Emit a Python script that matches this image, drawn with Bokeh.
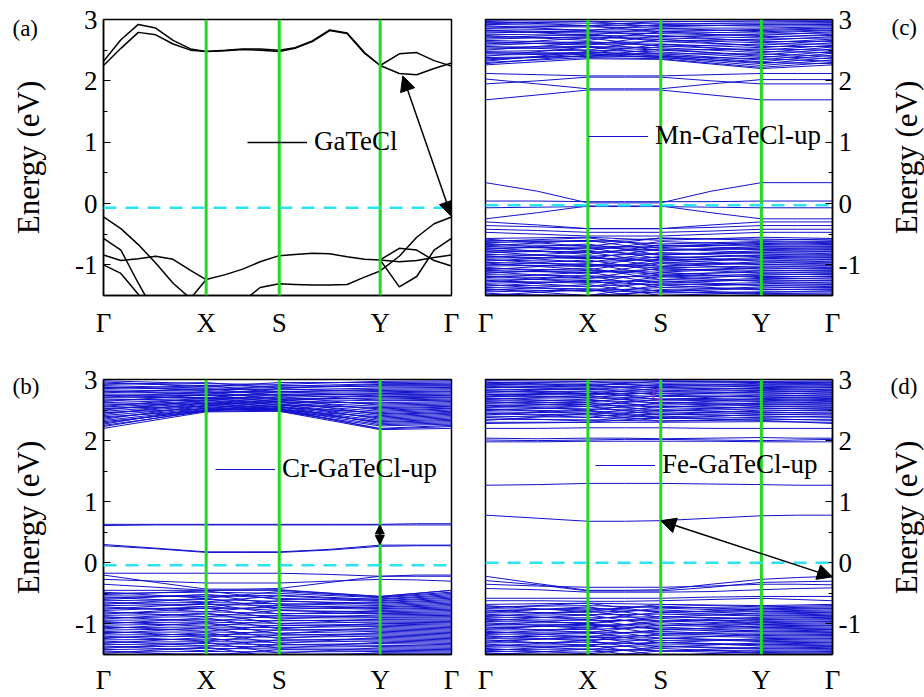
import numpy as np
from bokeh.plotting import figure
from bokeh.models import (FixedTicker, Arrow, NormalHead, Label, Legend,
                          LegendItem, Span, Range1d)
from bokeh.core.properties import value
from bokeh.layouts import column, row
from bokeh.embed import file_html
from bokeh.resources import INLINE

FONT = "Liberation Serif"
BLUE = "#1212CC"
GREEN = "#1EDC1E"
CYAN = "#2CE3F0"

# high-symmetry path
K_TICKS = [0.0, 0.295, 0.505, 0.795, 1.0]
K_NAMES = ["Γ", "X", "S", "Y", "Γ"]
E_TICKS = [-1, 0, 1, 2, 3]
E_MINOR = [-1.5, -0.5, 0.5, 1.5, 2.5]
PANEL_LETTERS = ["(a)", "(b)", "(c)", "(d)"]
LEGEND_NAMES = ["GaTeCl", "Cr-GaTeCl-up", "Mn-GaTeCl-up", "Fe-GaTeCl-up"]
Y_LABEL = "Energy (eV)"

# ---------------- panel (a): GaTeCl ----------------
ka = [0, 0.05, 0.1, 0.15, 0.2, 0.25, 0.295, 0.35, 0.4, 0.45, 0.505,
      0.55, 0.6, 0.65, 0.7, 0.75, 0.795, 0.85, 0.9, 0.95, 1.0]
a_c1 = [2.25, 2.53, 2.79, 2.75, 2.6, 2.5, 2.48, 2.49, 2.51, 2.5, 2.48,
        2.53, 2.64, 2.82, 2.77, 2.45, 2.25, 2.12, 2.1, 2.2, 2.29]
a_c2 = [2.32, 2.67, 2.92, 2.86, 2.66, 2.52, 2.48, 2.5, 2.52, 2.52, 2.5,
        2.54, 2.65, 2.83, 2.78, 2.46, 2.25, 2.44, 2.46, 2.33, 2.24]
a_v1 = [-0.22, -0.41, -0.67, -0.97, -1.3, -1.55, -1.24, -1.16, -1.07, -0.95, -0.85,
        -0.83, -0.81, -0.82, -0.87, -0.91, -0.92, -0.95, -0.93, -0.88, -0.84]
a_v2 = [-0.57, -0.76, -1.3, -1.8, None, None, None, None, -1.6, -1.37, -1.31,
        -1.32, -1.33, -1.33, -1.32, -1.2, -1.1, -0.86, -0.55, -0.33, -0.22]
a_v3 = [-1.0, -1.14, -1.48, -1.8, None, None, None, None, None, None, None,
        None, None, None, None, None, -0.92, -1.36, -1.19, -0.76, -0.57]
a_v4 = [-0.84, -0.93, -0.9, -0.86, -0.91, -1.09, -1.24, None, None, None, None,
        None, None, None, None, None, -0.92, -0.73, -0.76, -0.93, -1.02]
a_fermi = -0.07
a_arrow_k = [1.0, 0.86]
a_arrow_e = [-0.21, 2.08]

# k grid for the isolated bands of the doped cells
k9 = [0, 0.15, 0.295, 0.4, 0.505, 0.65, 0.795, 0.9, 1.0]

# ---------------- panel (c): Mn-GaTeCl-up ----------------
c_iso = [
    [1.69, 1.77, 1.85, 1.85, 1.85, 1.77, 1.69, 1.69, 1.69],
    [1.95, 2.0, 2.06, 2.06, 2.06, 2.0, 1.95, 1.95, 1.95],
    [2.03, 1.95, 1.87, 1.87, 1.87, 1.95, 2.02, 2.02, 2.02],
    [2.12, 2.1, 2.08, 2.08, 2.08, 2.1, 2.12, 2.12, 2.12],
    [0.34, 0.2, 0.01, 0.01, 0.01, 0.2, 0.34, 0.34, 0.34],
    [0.04, 0.04, 0.03, 0.03, 0.03, 0.03, 0.04, 0.04, 0.04],
    [-0.07, -0.06, -0.05, -0.05, -0.05, -0.06, -0.07, -0.07, -0.07],
    [-0.25, -0.15, -0.04, -0.04, -0.04, -0.15, -0.25, -0.25, -0.25],
    [-0.3, -0.35, -0.41, -0.41, -0.41, -0.35, -0.3, -0.3, -0.3],
    [-0.36, -0.38, -0.41, -0.41, -0.41, -0.39, -0.36, -0.36, -0.36],
    [-0.42, -0.44, -0.47, -0.47, -0.47, -0.45, -0.42, -0.42, -0.42],
    [-0.47, -0.5, -0.53, -0.53, -0.53, -0.5, -0.47, -0.47, -0.47],
]
c_cG = [2.98, 2.95, 2.92, 2.88, 2.85, 2.82, 2.8, 2.76, 2.72, 2.68, 2.66,
        2.62, 2.58, 2.55, 2.52, 2.48, 2.45, 2.42, 2.38, 2.34, 2.3, 2.26]
c_cX = [2.97, 2.94, 2.9, 2.88, 2.83, 2.8, 2.78, 2.74, 2.7, 2.72, 2.62,
        2.6, 2.64, 2.56, 2.55, 2.5, 2.46, 2.44, 2.4, 2.44, 2.38, 2.36]
c_cS = [2.96, 2.93, 2.9, 2.86, 2.83, 2.8, 2.77, 2.73, 2.7, 2.67, 2.64,
        2.6, 2.57, 2.54, 2.5, 2.47, 2.44, 2.42, 2.4, 2.38, 2.36, 2.35]
c_cY = [2.98, 2.94, 2.91, 2.86, 2.82, 2.78, 2.74, 2.7, 2.66, 2.62, 2.58,
        2.54, 2.5, 2.46, 2.42, 2.38, 2.34, 2.31, 2.28, 2.25, 2.22, 2.2]
c_dG = [2.97, 2.93, 2.9, 2.86, 2.83, 2.78, 2.74, 2.7, 2.64, 2.6, 2.56,
        2.5, 2.46, 2.4, 2.36, 2.32, 2.28]
c_dX = [2.9, 2.97, 2.82, 2.9, 2.74, 2.82, 2.66, 2.76, 2.58, 2.7, 2.5,
        2.62, 2.44, 2.55, 2.4, 2.48, 2.42]
c_dS = [2.97, 2.88, 2.92, 2.8, 2.86, 2.72, 2.8, 2.64, 2.74, 2.56, 2.68,
        2.5, 2.6, 2.44, 2.52, 2.4, 2.38]
c_dY = [2.96, 2.92, 2.89, 2.84, 2.8, 2.76, 2.72, 2.68, 2.64, 2.6, 2.56,
        2.52, 2.48, 2.44, 2.4, 2.36, 2.3]
c_vG = [-0.57, -0.6, -0.64, -0.67, -0.7, -0.73, -0.76, -0.79, -0.83, -0.86,
        -0.89, -0.92, -0.96, -0.99, -1.02, -1.06, -1.09, -1.12, -1.16, -1.19,
        -1.23, -1.26, -1.3, -1.33, -1.37, -1.4, -1.44, -1.48]
c_vX = [-0.55, -0.62, -0.6, -0.69, -0.74, -0.71, -0.8, -0.78, -0.86, -0.9,
        -0.88, -0.95, -0.99, -1.03, -1.0, -1.09, -1.13, -1.1, -1.18, -1.22,
        -1.25, -1.3, -1.27, -1.35, -1.39, -1.43, -1.41, -1.5]
c_vS = [-0.6, -0.57, -0.66, -0.72, -0.68, -0.77, -0.74, -0.84, -0.81, -0.88,
        -0.94, -0.91, -1.02, -0.97, -1.05, -1.12, -1.07, -1.15, -1.2, -1.17,
        -1.28, -1.24, -1.33, -1.31, -1.42, -1.37, -1.46, -1.44]
c_vY = [-0.55, -0.58, -0.62, -0.65, -0.69, -0.72, -0.75, -0.79, -0.82, -0.85,
        -0.88, -0.92, -0.95, -0.99, -1.02, -1.05, -1.09, -1.12, -1.15, -1.19,
        -1.22, -1.26, -1.29, -1.33, -1.36, -1.4, -1.44, -1.48]
c_wG = [-0.58, -0.62, -0.65, -0.69, -0.72, -0.75, -0.78, -0.81, -0.85, -0.88,
        -0.91, -0.94, -0.97, -1.01, -1.04, -1.08, -1.11, -1.14, -1.18, -1.21,
        -1.25, -1.28, -1.32, -1.35, -1.39, -1.42, -1.46, -1.5]
c_wX = [-0.7, -0.56, -0.77, -0.6, -0.83, -0.66, -0.9, -0.72, -0.96, -0.79,
        -1.02, -0.85, -1.08, -0.92, -1.15, -0.98, -1.22, -1.05, -1.29, -1.12,
        -1.36, -1.18, -1.43, -1.25, -1.5, -1.32, -1.56, -1.4]
c_wS = [-0.56, -0.7, -0.62, -0.77, -0.68, -0.84, -0.74, -0.9, -0.8, -0.97,
        -0.86, -1.03, -0.92, -1.1, -0.98, -1.17, -1.05, -1.24, -1.12, -1.3,
        -1.19, -1.37, -1.26, -1.44, -1.33, -1.5, -1.4, -1.56]
c_wY = [-0.6, -0.63, -0.67, -0.7, -0.74, -0.77, -0.8, -0.84, -0.87, -0.9,
        -0.94, -0.97, -1.0, -1.04, -1.07, -1.1, -1.14, -1.17, -1.21, -1.24,
        -1.27, -1.31, -1.34, -1.38, -1.41, -1.45, -1.47, -1.51]
c_fermi = -0.03

# ---------------- panel (b): Cr-GaTeCl-up ----------------
b_iso = [
    [0.63, 0.63, 0.63, 0.63, 0.63, 0.63, 0.63, 0.64, 0.64],
    [0.61, 0.62, 0.62, 0.62, 0.62, 0.62, 0.62, 0.62, 0.62],
    [0.3, 0.24, 0.18, 0.18, 0.18, 0.22, 0.29, 0.29, 0.29],
    [0.28, 0.23, 0.17, 0.17, 0.17, 0.21, 0.27, 0.28, 0.28],
    [-0.17, -0.17, -0.17, -0.17, -0.17, -0.19, -0.22, -0.22, -0.22],
    [-0.2, -0.32, -0.43, -0.43, -0.42, -0.32, -0.22, -0.2, -0.2],
    [-0.27, -0.3, -0.33, -0.33, -0.33, -0.3, -0.27, -0.28, -0.3],
    [-0.35, -0.4, -0.45, -0.45, -0.45, -0.5, -0.55, -0.5, -0.45],
]
b_cG = [2.98, 2.94, 2.9, 2.87, 2.83, 2.8, 2.76, 2.73, 2.7, 2.66, 2.62,
        2.58, 2.55, 2.52, 2.48, 2.45, 2.41, 2.37, 2.33, 2.29, 2.25, 2.2]
b_cX = [2.93, 2.9, 2.86, 2.84, 2.81, 2.79, 2.76, 2.74, 2.71, 2.69, 2.67,
        2.65, 2.63, 2.61, 2.59, 2.57, 2.55, 2.53, 2.51, 2.5, 2.48, 2.47]
b_cS = [2.92, 2.89, 2.86, 2.83, 2.8, 2.78, 2.75, 2.73, 2.7, 2.68, 2.66,
        2.64, 2.62, 2.6, 2.58, 2.56, 2.55, 2.53, 2.52, 2.51, 2.5, 2.48]
b_cY = [2.97, 2.93, 2.9, 2.86, 2.82, 2.78, 2.75, 2.72, 2.68, 2.65, 2.6,
        2.56, 2.52, 2.48, 2.44, 2.41, 2.37, 2.33, 2.3, 2.26, 2.2, 2.18]
b_dG = [2.96, 2.92, 2.88, 2.85, 2.81, 2.78, 2.74, 2.71, 2.68, 2.64, 2.6,
        2.56, 2.53, 2.5, 2.46, 2.43, 2.39, 2.35, 2.31, 2.27, 2.23]
b_dX = [2.88, 2.95, 2.82, 2.9, 2.76, 2.85, 2.7, 2.8, 2.65, 2.75, 2.6,
        2.7, 2.56, 2.66, 2.52, 2.62, 2.49, 2.58, 2.48, 2.54, 2.5]
b_dS = [2.95, 2.86, 2.9, 2.8, 2.85, 2.74, 2.8, 2.68, 2.76, 2.63, 2.72,
        2.58, 2.68, 2.54, 2.64, 2.5, 2.6, 2.49, 2.56, 2.48, 2.52]
b_dY = [2.95, 2.92, 2.88, 2.84, 2.8, 2.77, 2.73, 2.7, 2.66, 2.62, 2.58,
        2.54, 2.5, 2.46, 2.43, 2.39, 2.35, 2.31, 2.28, 2.24, 2.19]
b_vG = [-0.45, -0.5, -0.54, -0.58, -0.62, -0.66, -0.7, -0.74, -0.78, -0.82,
        -0.86, -0.9, -0.94, -0.98, -1.02, -1.06, -1.1, -1.14, -1.18, -1.22,
        -1.26, -1.3, -1.34, -1.38, -1.42, -1.46, -1.5]
b_vX = [-0.45, -0.48, -0.55, -0.52, -0.6, -0.65, -0.68, -0.75, -0.72, -0.8,
        -0.84, -0.88, -0.93, -0.97, -1.0, -1.05, -1.08, -1.13, -1.17, -1.2,
        -1.25, -1.29, -1.32, -1.36, -1.4, -1.45, -1.49]
b_vS = [-0.44, -0.5, -0.53, -0.58, -0.63, -0.67, -0.7, -0.73, -0.78, -0.83,
        -0.87, -0.9, -0.95, -0.99, -1.03, -1.06, -1.1, -1.15, -1.18, -1.22,
        -1.27, -1.3, -1.34, -1.38, -1.41, -1.46, -1.5]
b_vY = [-0.55, -0.57, -0.6, -0.63, -0.66, -0.7, -0.73, -0.76, -0.8, -0.83,
        -0.87, -0.9, -0.93, -0.97, -1.0, -1.04, -1.08, -1.12, -1.16, -1.2,
        -1.24, -1.28, -1.32, -1.37, -1.41, -1.45, -1.49]
b_wG = [-0.48, -0.52, -0.56, -0.6, -0.64, -0.68, -0.72, -0.76, -0.8, -0.84,
        -0.88, -0.92, -0.96, -1.0, -1.04, -1.08, -1.12, -1.16, -1.2, -1.24,
        -1.28, -1.32, -1.36, -1.4, -1.44, -1.48]
b_wX = [-0.58, -0.46, -0.64, -0.52, -0.72, -0.58, -0.8, -0.66, -0.88, -0.74,
        -0.96, -0.82, -1.04, -0.9, -1.12, -0.98, -1.2, -1.06, -1.28, -1.14,
        -1.36, -1.22, -1.44, -1.3, -1.52, -1.38]
b_wS = [-0.47, -0.6, -0.54, -0.68, -0.62, -0.76, -0.7, -0.84, -0.78, -0.92,
        -0.86, -1.0, -0.94, -1.08, -1.02, -1.16, -1.1, -1.24, -1.18, -1.32,
        -1.26, -1.4, -1.34, -1.48, -1.42, -1.55]
b_wY = [-0.56, -0.59, -0.62, -0.65, -0.68, -0.72, -0.75, -0.78, -0.82, -0.85,
        -0.89, -0.92, -0.95, -0.99, -1.02, -1.06, -1.1, -1.14, -1.18, -1.22,
        -1.26, -1.3, -1.35, -1.39, -1.43, -1.47]
b_fermi = -0.04
b_arrow_k = [0.794, 0.794]
b_arrow_e = [0.3, 0.62]

# ---------------- panel (d): Fe-GaTeCl-up ----------------
d_iso = [
    [1.27, 1.28, 1.3, 1.3, 1.3, 1.29, 1.28, 1.27, 1.27],
    [0.78, 0.73, 0.68, 0.68, 0.69, 0.73, 0.77, 0.78, 0.78],
    [1.98, 1.98, 1.99, 1.99, 1.99, 1.99, 1.98, 1.98, 1.98],
    [2.01, 2.0, 2.01, 2.02, 2.02, 2.01, 2.0, 2.01, 2.02],
    [2.04, 2.03, 2.04, 2.04, 2.03, 2.04, 2.05, 2.04, 2.04],
    [2.2, 2.2, 2.21, 2.21, 2.21, 2.2, 2.2, 2.2, 2.2],
    [-0.22, -0.34, -0.45, -0.45, -0.44, -0.35, -0.27, -0.24, -0.22],
    [-0.29, -0.36, -0.46, -0.46, -0.46, -0.4, -0.32, -0.31, -0.3],
    [-0.35, -0.38, -0.4, -0.4, -0.4, -0.38, -0.35, -0.35, -0.36],
    [-0.42, -0.44, -0.48, -0.48, -0.48, -0.47, -0.44, -0.42, -0.41],
    [-0.58, -0.58, -0.58, -0.58, -0.58, -0.56, -0.55, -0.55, -0.55],
    [-0.62, -0.62, -0.63, -0.63, -0.62, -0.6, -0.58, -0.6, -0.62],
]
d_cG = [2.98, 2.95, 2.92, 2.9, 2.87, 2.84, 2.81, 2.78, 2.75, 2.72, 2.69,
        2.66, 2.63, 2.6, 2.57, 2.54, 2.51, 2.47, 2.44, 2.4, 2.35, 2.3]
d_cX = [2.97, 2.94, 2.91, 2.88, 2.86, 2.83, 2.8, 2.77, 2.76, 2.73, 2.7,
        2.66, 2.62, 2.59, 2.56, 2.52, 2.48, 2.45, 2.42, 2.38, 2.34, 2.3]
d_cS = [2.98, 2.96, 2.93, 2.9, 2.87, 2.83, 2.8, 2.77, 2.72, 2.68, 2.65,
        2.62, 2.58, 2.55, 2.51, 2.48, 2.45, 2.42, 2.39, 2.36, 2.32, 2.3]
d_cY = [2.97, 2.95, 2.92, 2.88, 2.85, 2.82, 2.79, 2.76, 2.73, 2.7, 2.67,
        2.64, 2.61, 2.58, 2.55, 2.52, 2.48, 2.45, 2.42, 2.38, 2.34, 2.31]
d_dG = [2.96, 2.93, 2.89, 2.86, 2.82, 2.79, 2.76, 2.73, 2.7, 2.67, 2.64,
        2.61, 2.58, 2.55, 2.52, 2.49, 2.45, 2.42, 2.38, 2.33, 2.28]
d_dX = [2.9, 2.97, 2.83, 2.92, 2.76, 2.86, 2.7, 2.8, 2.63, 2.74, 2.56,
        2.68, 2.5, 2.62, 2.44, 2.56, 2.38, 2.5, 2.32, 2.44, 2.3]
d_dS = [2.97, 2.88, 2.92, 2.81, 2.86, 2.74, 2.8, 2.67, 2.74, 2.6, 2.68,
        2.54, 2.62, 2.48, 2.56, 2.42, 2.5, 2.36, 2.44, 2.32, 2.38]
d_dY = [2.96, 2.94, 2.9, 2.87, 2.84, 2.81, 2.78, 2.75, 2.72, 2.69, 2.66,
        2.62, 2.59, 2.56, 2.53, 2.5, 2.46, 2.43, 2.4, 2.36, 2.33]
d_vG = [-0.68, -0.72, -0.75, -0.79, -0.82, -0.86, -0.89, -0.93, -0.96, -1.0,
        -1.03, -1.07, -1.1, -1.14, -1.17, -1.21, -1.24, -1.28, -1.31, -1.35,
        -1.38, -1.42, -1.45, -1.49]
d_vX = [-0.66, -0.7, -0.77, -0.74, -0.81, -0.85, -0.9, -0.94, -0.98, -1.01,
        -1.05, -1.02, -1.09, -1.13, -1.16, -1.2, -1.25, -1.22, -1.3, -1.34,
        -1.37, -1.41, -1.46, -1.5]
d_vS = [-0.68, -0.73, -0.71, -0.8, -0.77, -0.84, -0.88, -0.95, -0.91, -1.02,
        -0.98, -1.08, -1.05, -1.15, -1.12, -1.19, -1.27, -1.23, -1.33, -1.3,
        -1.36, -1.44, -1.4, -1.5]
d_vY = [-0.7, -0.74, -0.77, -0.8, -0.84, -0.87, -0.91, -0.94, -0.98, -1.01,
        -1.05, -1.08, -1.12, -1.15, -1.19, -1.22, -1.26, -1.29, -1.33, -1.36,
        -1.4, -1.43, -1.47, -1.5]
d_wG = [-0.7, -0.74, -0.77, -0.81, -0.84, -0.88, -0.91, -0.95, -0.98, -1.02,
        -1.05, -1.09, -1.12, -1.16, -1.19, -1.23, -1.26, -1.3, -1.33, -1.37,
        -1.4, -1.44, -1.47, -1.51]
d_wX = [-0.8, -0.66, -0.86, -0.72, -0.93, -0.78, -1.0, -0.85, -1.07, -0.92,
        -1.14, -0.99, -1.21, -1.06, -1.28, -1.13, -1.35, -1.2, -1.42, -1.27,
        -1.49, -1.34, -1.55, -1.41]
d_wS = [-0.68, -0.82, -0.74, -0.89, -0.81, -0.96, -0.88, -1.03, -0.95, -1.1,
        -1.02, -1.17, -1.09, -1.24, -1.16, -1.31, -1.23, -1.38, -1.3, -1.45,
        -1.37, -1.52, -1.44, -1.58]
d_wY = [-0.72, -0.75, -0.79, -0.82, -0.86, -0.89, -0.93, -0.96, -1.0, -1.03,
        -1.06, -1.1, -1.13, -1.17, -1.2, -1.24, -1.27, -1.31, -1.34, -1.38,
        -1.41, -1.45, -1.48, -1.52]
d_fermi = 0.0
d_arrow_k = [1.0, 0.505]
d_arrow_e = [-0.23, 0.69]


def make_fig(width, height, left, right, top, bottom, side, standoff):
    p = figure(width=width, height=height, x_range=Range1d(0, 1),
               y_range=Range1d(-1.5, 3), output_backend="svg",
               toolbar_location=None, y_axis_location=side,
               min_border_left=left, min_border_right=right,
               min_border_top=top, min_border_bottom=bottom)
    p.grid.visible = False
    p.background_fill_color = "white"
    p.border_fill_color = "white"
    p.outline_line_color = "black"
    p.outline_line_width = 1.5
    p.outline_line_alpha = 1.0
    xa = p.xaxis[0]
    xa.ticker = FixedTicker(ticks=K_TICKS)
    xa.major_label_overrides = {t: n for t, n in zip(K_TICKS, K_NAMES)}
    xa.major_tick_in = 0
    xa.major_tick_out = 0
    xa.minor_tick_in = 0
    xa.minor_tick_out = 0
    xa.major_label_standoff = standoff
    xa.axis_line_color = "black"
    xa.axis_line_width = 1.5
    ya = p.yaxis[0]
    ya.ticker = FixedTicker(ticks=E_TICKS, minor_ticks=E_MINOR)
    ya.major_label_overrides = {t: str(t) for t in E_TICKS}
    ya.major_tick_in = 7
    ya.major_tick_out = 0
    ya.minor_tick_in = 4
    ya.minor_tick_out = 0
    ya.major_label_standoff = 6
    ya.axis_line_color = "black"
    ya.axis_line_width = 1.5
    ya.major_tick_line_color = "black"
    ya.minor_tick_line_color = "black"
    for ax in (xa, ya):
        ax.major_label_text_font = FONT
        ax.major_label_text_font_size = "27px"
        ax.major_label_text_color = "black"
    return p


def decorate(p, fermi):
    for k in K_TICKS[1:4]:
        p.add_layout(Span(location=k, dimension="height", line_color=GREEN,
                          line_width=3))
    p.add_layout(Span(location=fermi, dimension="width", line_color=CYAN,
                      line_width=2.5, line_dash="13 9"))


def add_legend(p, r, label, loc):
    lg = Legend(items=[LegendItem(label=label, renderers=[r])], location=loc,
                label_text_font=FONT, label_text_font_size="27px",
                label_text_color="black", glyph_width=60, glyph_height=30,
                label_height=30, label_standoff=7, padding=0, margin=0,
                spacing=0, background_fill_alpha=0, border_line_alpha=0)
    p.add_layout(lg)


def add_arrow(p, ks, es, size, width):
    p.add_layout(Arrow(x_start=ks[0], y_start=es[0], x_end=ks[1], y_end=es[1],
                       line_color="black", line_width=width,
                       start=NormalHead(size=size, fill_color="black",
                                        line_color="black"),
                       end=NormalHead(size=size, fill_color="black",
                                      line_color="black")))


def dense(p, G, X, S, Y):
    xs = [K_TICKS for _ in G]
    ys = [[g, x, s, y, g] for g, x, s, y in zip(G, X, S, Y)]
    p.multi_line(xs, ys, line_color=BLUE, line_width=1)


def iso(p, bands):
    return p.multi_line([k9 for _ in bands], bands, line_color=BLUE,
                        line_width=1)


def strip(width, texts):
    # side strip holding panel letters and the rotated energy labels
    s = figure(width=width, height=697, x_range=Range1d(0, width),
               y_range=Range1d(0, 697), output_backend="svg",
               toolbar_location=None, x_axis_type=None, y_axis_type=None,
               min_border_left=0, min_border_right=0, min_border_top=0,
               min_border_bottom=0)
    s.grid.visible = False
    s.outline_line_color = None
    s.background_fill_color = "white"
    s.border_fill_color = "white"
    for (tx, ty, txt, ang, size, align, base) in texts:
        s.text(x=[tx], y=[697 - ty], text=[txt], angle=ang,
               text_font=value(FONT), text_font_size=size, text_color="black",
               text_align=align, text_baseline=base)
    return s


# ---- (a)
pa = make_fig(405, 350, 48, 9, 19, 55, "left", 12)
ra = None
for band in (a_c1, a_c2, a_v1, a_v2, a_v3, a_v4):
    r = pa.line(ka, np.array(band, dtype=float), line_color="black",
                line_width=1.5)
    ra = ra or r
decorate(pa, a_fermi)
add_legend(pa, ra, LEGEND_NAMES[0], (144, 138))
add_arrow(pa, a_arrow_k, a_arrow_e, 15, 1.5)

# ---- (c)
pc = make_fig(415, 350, 25, 43, 19, 55, "right", 12)
dense(pc, c_cG, c_cX, c_cS, c_cY)
dense(pc, c_dG, c_dX, c_dS, c_dY)
dense(pc, c_vG, c_vX, c_vS, c_vY)
dense(pc, c_wG, c_wX, c_wS, c_wY)
rc = iso(pc, c_iso)
decorate(pc, c_fermi)
add_legend(pc, rc, LEGEND_NAMES[2], (103, 144))

# ---- (b)
pb = make_fig(405, 347, 48, 9, 29, 42, "left", 10)
dense(pb, b_cG, b_cX, b_cS, b_cY)
dense(pb, b_dG, b_dX, b_dS, b_dY)
dense(pb, b_vG, b_vX, b_vS, b_vY)
dense(pb, b_wG, b_wX, b_wS, b_wY)
rb = iso(pb, b_iso)
decorate(pb, b_fermi)
add_legend(pb, rb, LEGEND_NAMES[1], (112, 170))
add_arrow(pb, b_arrow_k, b_arrow_e, 9, 1.5)

# ---- (d)
pd_ = make_fig(415, 347, 25, 43, 29, 42, "right", 10)
dense(pd_, d_cG, d_cX, d_cS, d_cY)
dense(pd_, d_dG, d_dX, d_dS, d_dY)
dense(pd_, d_vG, d_vX, d_vS, d_vY)
dense(pd_, d_wG, d_wX, d_wS, d_wY)
rd = iso(pd_, d_iso)
decorate(pd_, d_fermi)
add_legend(pd_, rd, LEGEND_NAMES[3], (110, 174))
add_arrow(pd_, d_arrow_k, d_arrow_e, 15, 1.5)
pd_.add_layout(Label(x=0.478, y=2.62, text="C", text_font=FONT,
                     text_font_size="16px", text_color="#9A2BD0"))

left = strip(55, [
    (12, 28, PANEL_LETTERS[0], 0, "23px", "left", "alphabetic"),
    (27.5, 157, Y_LABEL, np.pi / 2, "31px", "center", "middle"),
    (12, 386, PANEL_LETTERS[1], 0, "23px", "left", "alphabetic"),
    (27.5, 517, Y_LABEL, np.pi / 2, "31px", "center", "middle"),
])
right = strip(49, [
    (16, 27, PANEL_LETTERS[2], 0, "23px", "left", "alphabetic"),
    (31, 157, Y_LABEL, np.pi / 2, "31px", "center", "middle"),
    (15, 386, PANEL_LETTERS[3], 0, "23px", "left", "alphabetic"),
    (31, 517, Y_LABEL, np.pi / 2, "31px", "center", "middle"),
])

layout = row(left, column(row(pa, pc), row(pb, pd_)), right)
open("out.html", "w").write(file_html(layout, INLINE))
